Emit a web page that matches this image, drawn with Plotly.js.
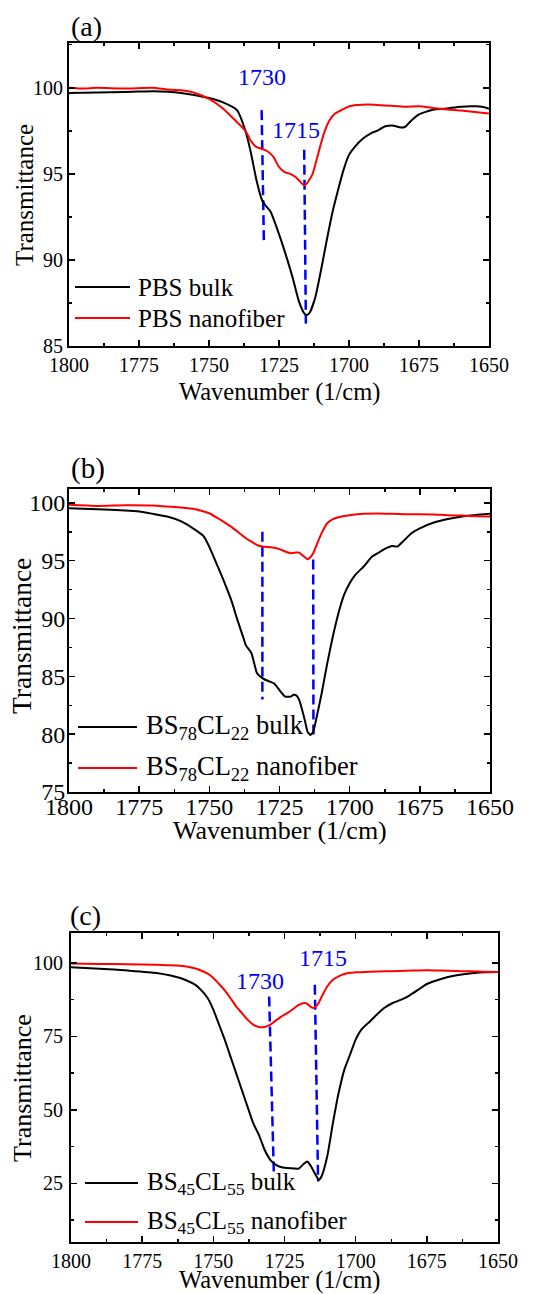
<!DOCTYPE html>
<html>
<head>
<meta charset="utf-8">
<script src="https://cdn.plot.ly/plotly-3.0.1.min.js"></script>
<style>html,body{margin:0;padding:0;background:#fff;}</style>
</head>
<body>
<div id="chart" style="width:542px;height:1294px;"></div>
<script>
// ---------- Panel (a): PBS ----------
const wnA_bulk = [1800,1790,1780,1775,1770,1760,1750,1745,1740,1737,1735,1733,1731,1730,1728,1725,1722,1720,1718,1716,1715,1714,1712,1710,1708,1706,1704,1702,1700,1698,1695,1692,1690,1687,1684,1682,1680,1678,1675,1670,1665,1660,1655,1652,1650];
const tA_bulk  = [99.7,99.72,99.75,99.78,99.8,99.7,99.4,99.15,98.7,97.5,96.2,94.6,93.45,93.2,92.8,91.5,90.0,88.9,87.65,86.9,86.8,86.95,87.85,89.4,91.1,92.7,94.0,95.2,96.1,96.55,97.05,97.37,97.5,97.76,97.8,97.7,97.72,98.06,98.45,98.72,98.8,98.9,98.92,98.88,98.78];
const wnA_nano = [1800,1795,1790,1780,1770,1765,1760,1755,1750,1745,1740,1737,1735,1733,1731,1729,1727,1725,1723,1721,1719,1717,1716,1715,1713,1711,1709,1707,1705,1703,1700,1697,1693,1690,1685,1680,1675,1670,1665,1660,1655,1650];
const tA_nano  = [100.0,99.95,100.0,99.95,100.0,99.9,99.85,99.7,99.35,98.8,98.0,97.5,96.9,96.55,96.45,96.3,95.98,95.4,95.1,95.0,94.8,94.47,94.33,94.45,95.0,96.17,97.33,98.1,98.5,98.68,98.92,99.0,99.03,99.0,98.95,98.9,98.92,98.83,98.74,98.68,98.59,98.5];
const namesA = ['PBS bulk','PBS nanofiber'];
const markTopWnA = [1731.2, 1716.0];
const markBotWnA = [1730.4, 1715.4];
const markTopA = [98.7, 96.4];
const markBotA = [91.0, 86.3];
const peakTextA = ['1730','1715'];
const peakWnA = [1731.2, 1718.9];
const peakTA = [100.6, 97.55];

// ---------- Panel (b): BS78CL22 ----------
const wnB_bulk = [1800,1790,1780,1775,1770,1765,1760,1755,1752,1750,1747,1745,1742,1740,1738,1737,1735,1733,1731,1729,1727,1725,1723,1721,1720,1719,1718,1716,1715,1714,1713,1712,1710,1708,1706,1704,1702,1700,1698,1695,1692,1690,1687,1685,1683,1681,1678,1675,1670,1665,1660,1655,1650];
const tB_bulk  = [99.54,99.45,99.34,99.25,99.05,98.82,98.4,97.66,97.1,96.2,94.5,93.34,91.46,89.88,88.44,87.7,87.0,85.27,84.83,84.6,84.4,83.8,83.25,83.25,83.4,83.36,82.96,81.23,80.2,79.93,80.2,81.2,83.5,86.1,88.44,90.46,92.04,93.05,93.77,94.5,95.36,95.65,96.08,96.28,96.22,96.66,97.38,97.8,98.3,98.6,98.82,98.96,99.05];
const wnB_nano = [1800,1790,1780,1770,1765,1760,1755,1750,1747,1745,1742,1740,1737,1735,1733,1731,1728,1725,1723,1721,1719,1718,1717,1716,1715,1714,1713,1712,1710,1708,1706,1704,1700,1695,1690,1685,1680,1675,1670,1665,1660,1655,1650];
const tB_nano  = [99.83,99.74,99.8,99.77,99.68,99.6,99.45,99.1,98.67,98.38,97.9,97.52,96.94,96.65,96.36,96.22,96.16,96.0,95.8,95.65,95.7,95.7,95.5,95.3,95.13,95.3,95.65,96.22,97.38,98.24,98.59,98.76,98.93,99.05,99.08,99.05,99.02,99.02,99.0,98.93,98.9,98.85,98.82];
const namesB = ['BS<sub>78</sub>CL<sub>22</sub> bulk','BS<sub>78</sub>CL<sub>22</sub> nanofiber'];
const markTopWnB = [1731.1, 1713.0];
const markBotWnB = [1731.1, 1712.9];
const markTopB = [97.5, 95.1];
const markBotB = [83.0, 79.6];

// ---------- Panel (c): BS45CL55 ----------
const wnC_bulk = [1800,1790,1780,1770,1765,1760,1757,1755,1752,1750,1748,1746,1744,1742,1740,1738,1736,1734,1732,1730,1728,1726,1723,1720,1718,1717,1716,1714,1713,1712,1710,1708,1706,1704,1702,1700,1698,1695,1692,1690,1687,1684,1681,1678,1675,1670,1665,1660,1655,1650];
const tC_bulk  = [98.5,98.07,97.4,96.6,95.7,94.3,92.95,91.5,88.07,84.1,79.0,73.9,68.2,62.5,56.8,51.1,45.45,41.5,36.4,33.0,31.25,30.45,30.1,30.0,31.8,32.4,31.25,27.8,26.1,27.3,34.1,45.45,55.7,63.6,68.75,73.9,77.3,80.1,82.95,84.66,86.36,87.5,89.0,90.9,92.84,94.55,95.7,96.4,96.8,96.9];
const wnC_nano = [1800,1790,1780,1770,1765,1760,1757,1755,1752,1750,1748,1746,1744,1742,1740,1738,1736,1734,1732,1730,1728,1726,1724,1722,1720,1718,1717,1716,1715,1714,1713,1712,1710,1708,1706,1704,1700,1695,1690,1685,1680,1675,1670,1665,1660,1655,1650];
const tC_nano  = [99.8,99.66,99.55,99.43,99.2,98.86,98.3,97.7,96.36,94.9,92.84,90.7,88.07,85.2,82.95,80.7,79.0,78.2,78.2,79.0,80.45,81.8,82.95,84.3,85.7,86.36,86.1,85.2,84.66,85.2,86.36,88.4,92.0,94.3,95.45,96.25,96.8,97.05,97.16,97.27,97.4,97.5,97.4,97.27,97.16,97.05,96.9];
const namesC = ['BS<sub>45</sub>CL<sub>55</sub> bulk','BS<sub>45</sub>CL<sub>55</sub> nanofiber'];
const markTopWnC = [1730.4, 1714.35];
const markBotWnC = [1728.75, 1713.2];
const markTopC = [88.6, 92.6];
const markBotC = [28.4, 25.6];
const peakTextC = ['1730','1715'];
const peakWnC = [1733.7, 1711.4];
const peakTC = [93.7, 101.7];

const panelLabels = ['(a)','(b)','(c)'];
const xTitle = 'Wavenumber (1/cm)';
const yTitle = 'Transmittance';

// ---------- styling ----------
const FONT = 'Liberation Serif, Times New Roman, serif';
const W = 542, H = 1294;
const px = v => v / W;
const py = v => 1 - v / H;
const COLORS = ['#000000', '#ff0000'];

function curve(x, y, name, color, xa, ya) {
  return {x: x, y: y, name: name, type: 'scatter', mode: 'lines',
    line: {color: color, width: 2, shape: 'spline', smoothing: 0.5},
    xaxis: xa, yaxis: ya, showlegend: false, hoverinfo: 'skip'};
}
function marks(topWn, botWn, top, bot, xa, ya) {
  const out = [];
  for (let i = 0; i < topWn.length; i++) {
    out.push({x: [topWn[i], botWn[i]], y: [top[i], bot[i]], type: 'scatter', mode: 'lines',
      line: {color: '#0000ff', width: 2.5, dash: '10px,5px'}, showlegend: false,
      xaxis: xa, yaxis: ya, hoverinfo: 'skip'});
  }
  return out;
}

const data = [
  ...marks(markTopWnA, markBotWnA, markTopA, markBotA, 'x', 'y'),
  curve(wnA_bulk, tA_bulk, namesA[0], COLORS[0], 'x', 'y'),
  curve(wnA_nano, tA_nano, namesA[1], COLORS[1], 'x', 'y'),
  ...marks(markTopWnB, markBotWnB, markTopB, markBotB, 'x2', 'y2'),
  curve(wnB_bulk, tB_bulk, namesB[0], COLORS[0], 'x2', 'y2'),
  curve(wnB_nano, tB_nano, namesB[1], COLORS[1], 'x2', 'y2'),
  ...marks(markTopWnC, markBotWnC, markTopC, markBotC, 'x3', 'y3'),
  curve(wnC_bulk, tC_bulk, namesC[0], COLORS[0], 'x3', 'y3'),
  curve(wnC_nano, tC_nano, namesC[1], COLORS[1], 'x3', 'y3'),
];

function xaxis(domain, anchor, tickSize, labelShift) {
  return {domain: domain, anchor: anchor, range: [1800, 1650], autorange: false,
    tick0: 1650, dtick: 25, ticks: 'inside', ticklen: 6, tickwidth: 1.5, tickcolor: '#000',
    minor: {ticks: 'inside', ticklen: 3, dtick: 12.5, tick0: 1650, tickwidth: 1.5, tickcolor: '#000'},
    showline: true, linewidth: 2, linecolor: '#000', mirror: 'ticks',
    showgrid: false, zeroline: false, fixedrange: true, ticklabelstandoff: labelShift,
    tickfont: {family: FONT, size: tickSize, color: '#000'}};
}
function yaxis(domain, anchor, range, dtick, minorDtick, tickSize, labelShift) {
  return {domain: domain, anchor: anchor, range: range, autorange: false,
    tick0: 0, dtick: dtick, ticks: 'inside', ticklen: 6, tickwidth: 1.5, tickcolor: '#000',
    minor: {ticks: 'inside', ticklen: 3, dtick: minorDtick, tick0: 0, tickwidth: 1.5, tickcolor: '#000'},
    showline: true, linewidth: 2, linecolor: '#000', mirror: 'ticks',
    showgrid: false, zeroline: false, fixedrange: true, ticklabelstandoff: labelShift,
    tickfont: {family: FONT, size: tickSize, color: '#000'}};
}

const annotations = [];
const shapes = [];
function txt(x, y, t, size, opts) {
  annotations.push(Object.assign({x: px(x), y: py(y), xref: 'paper', yref: 'paper', text: t,
    showarrow: false, xanchor: 'center', yanchor: 'middle',
    font: {family: FONT, size: size, color: '#000'}}, opts || {}));
}
// peak labels in data coordinates
for (let i = 0; i < peakTextA.length; i++) {
  annotations.push({x: peakWnA[i], y: peakTA[i], xref: 'x', yref: 'y', text: peakTextA[i], showarrow: false,
    font: {family: FONT, size: 24, color: '#0000ff'}});
}
for (let i = 0; i < peakTextC.length; i++) {
  annotations.push({x: peakWnC[i], y: peakTC[i], xref: 'x3', yref: 'y3', text: peakTextC[i], showarrow: false,
    font: {family: FONT, size: 24, color: '#0000ff'}});
}
// panel labels
txt(69, 27, panelLabels[0], 28, {xanchor: 'left'});
txt(69, 469, panelLabels[1], 29, {xanchor: 'left'});
txt(68, 915, panelLabels[2], 28, {xanchor: 'left'});
// axis titles
txt(279, 392, xTitle, 24.5);
txt(25, 195, yTitle, 25, {textangle: -90});
txt(280, 830, xTitle, 26);
txt(21, 636, yTitle, 27.5, {textangle: -90});
txt(279, 1280, xTitle, 24.5);
txt(22, 1088, yTitle, 26, {textangle: -90});

// legends (line sample + text)
function legendRows(names, rows, x0, x1, xt, size) {
  names.forEach((n, i) => {
    shapes.push({type: 'line', xref: 'paper', yref: 'paper', x0: px(x0), x1: px(x1),
      y0: py(rows[i]), y1: py(rows[i]), line: {color: COLORS[i], width: 2}});
    txt(xt, rows[i], n, size, {xanchor: 'left'});
  });
}
legendRows(namesA, [287, 318], 75, 130, 136, 25);
legendRows(namesB, [727, 768], 78, 137, 144, 26.5);
legendRows(namesC, [1183, 1222], 85, 138, 145, 25);

const layout = {
  width: W, height: H, margin: {l: 0, r: 0, t: 0, b: 0},
  paper_bgcolor: '#fff', plot_bgcolor: '#fff',
  xaxis: xaxis([px(69), px(489)], 'y', 20, 0),
  yaxis: yaxis([py(346), py(43)], 'x', [85, 102.6], 5, 2.5, 20, 0),
  xaxis2: xaxis([px(69), px(490)], 'y2', 24, -8),
  yaxis2: yaxis([py(792), py(489)], 'x2', [75, 101.2], 5, 2.5, 24, -3),
  xaxis3: xaxis([px(71), px(498)], 'y3', 20, 0),
  yaxis3: yaxis([py(1242), py(933)], 'x3', [5, 110.2], 25, 12.5, 20, 2),
  showlegend: false,
  annotations: annotations,
  shapes: shapes,
  font: {family: FONT, color: '#000'}
};

Plotly.newPlot('chart', data, layout, {staticPlot: true, displayModeBar: false});
</script>
</body>
</html>
